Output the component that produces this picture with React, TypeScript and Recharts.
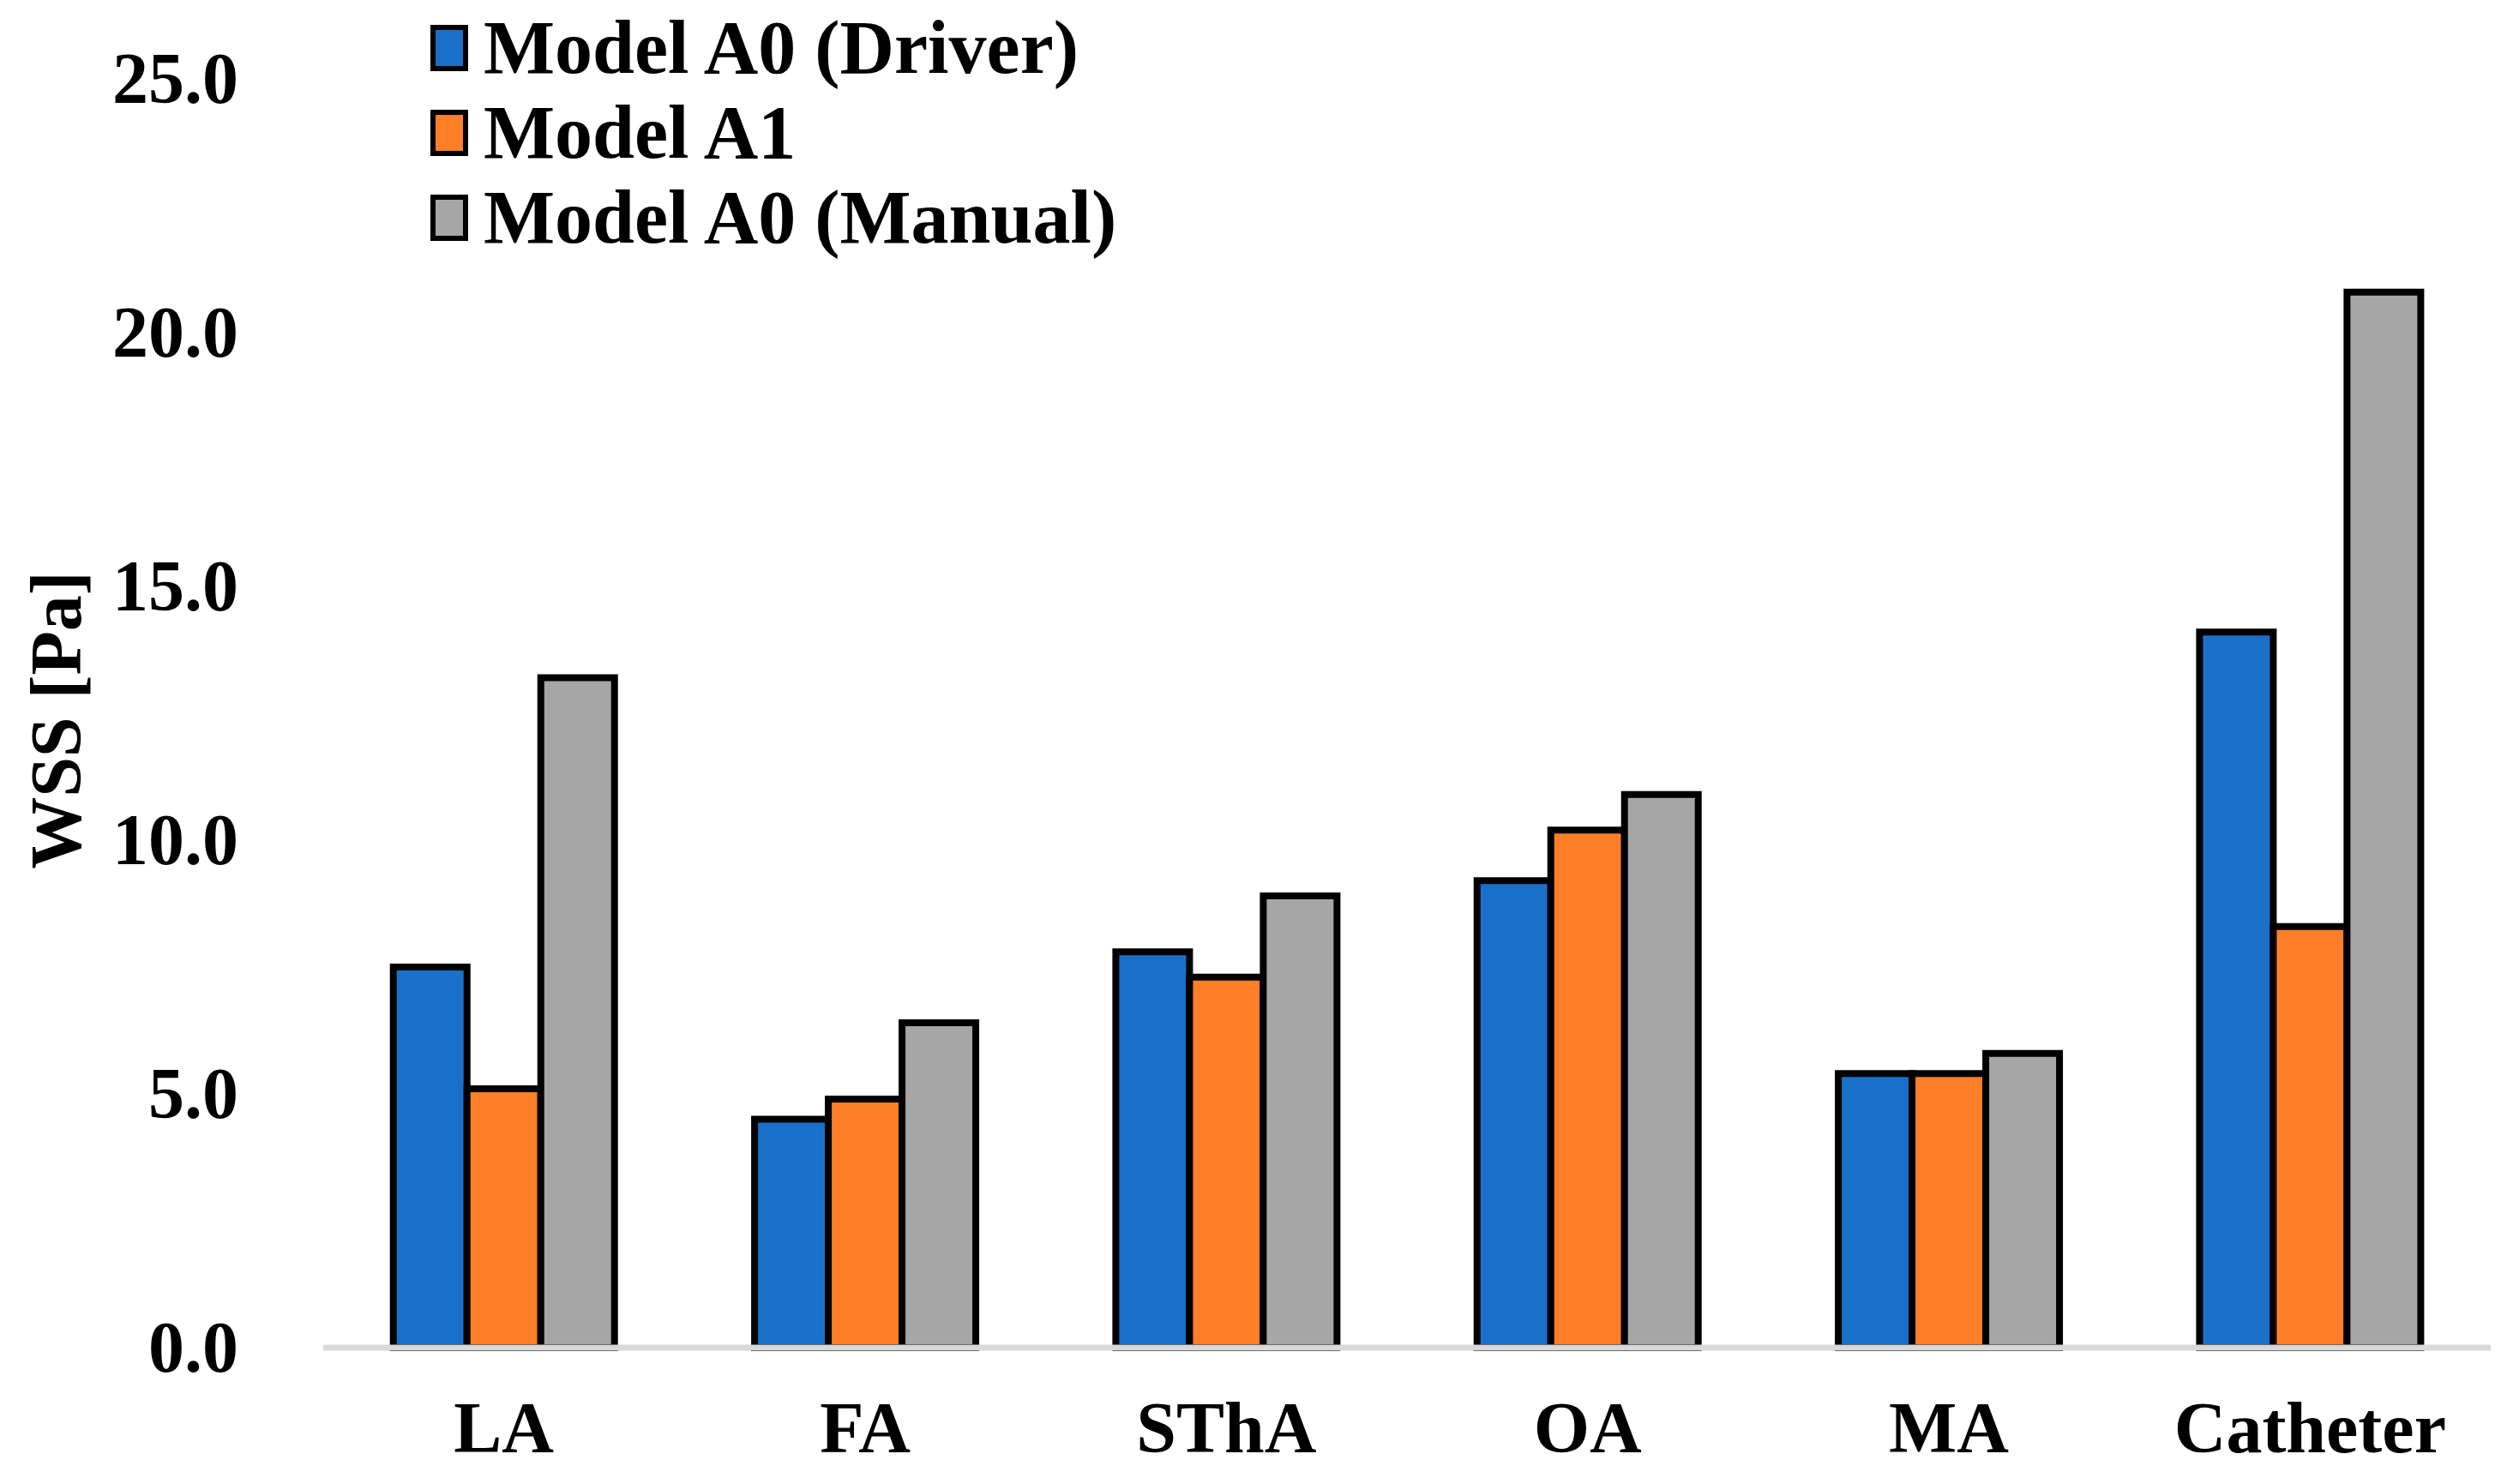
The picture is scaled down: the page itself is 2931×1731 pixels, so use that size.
import React from 'react';
import { BarChart, Bar, XAxis, YAxis, Label } from 'recharts';

const categories = ['LA', 'FA', 'SThA', 'OA', 'MA', 'Catheter'];
const modelA0Driver = [7.5, 4.5, 7.8, 9.2, 5.4, 14.1];
const modelA1 = [5.1, 4.9, 7.3, 10.2, 5.4, 8.3];
const modelA0Manual = [13.2, 6.4, 8.9, 10.9, 5.8, 20.8];
const yTicks = [0, 5, 10, 15, 20, 25];

const seriesNames = ['Model A0 (Driver)', 'Model A1', 'Model A0 (Manual)'];
const seriesColors = ['#1a70c8', '#fe7f27', '#a6a6a6'];

const data = categories.map((c, i) => ({
  name: c,
  a0d: modelA0Driver[i],
  a1: modelA1[i],
  a0m: modelA0Manual[i],
}));

const FONT = '"Liberation Serif", "Times New Roman", serif';

const XTick = (props: any) => {
  const { x, y, payload } = props;
  return (
    <text x={x} y={y} dy={114} textAnchor="middle" fontFamily={FONT} fontWeight="bold" fontSize={84} fill="#000">
      {payload.value}
    </text>
  );
};

const YTick = (props: any) => {
  const { x, y, payload } = props;
  return (
    <text x={x} y={y} dy={28} textAnchor="end" fontFamily={FONT} fontWeight="bold" fontSize={84} fill="#000">
      {Number(payload.value).toFixed(1)}
    </text>
  );
};

const LegendBox = () => (
  <div
    style={{
      position: 'absolute',
      left: 502,
      top: 6,
      fontFamily: FONT,
      fontWeight: 'bold',
      fontSize: 88,
      lineHeight: '99px',
      color: '#000',
    }}
  >
    {seriesNames.map((n, i) => (
      <div key={n} style={{ display: 'flex', alignItems: 'center', whiteSpace: 'nowrap' }}>
        <span
          style={{
            display: 'inline-block',
            width: 32,
            height: 42,
            background: seriesColors[i],
            border: '6px solid #000',
            marginRight: 18,
          }}
        />
        <span>{n}</span>
      </div>
    ))}
  </div>
);

export default function App() {
  return (
    <div style={{ position: 'absolute', left: 0, top: 0, width: 2931, height: 1731, background: '#fff' }}>
      <BarChart
        width={2931}
        height={1731}
        data={data}
        margin={{ top: 92, right: 26, left: 0, bottom: 0 }}
        barCategoryGap="19.4%"
        barGap={0}
      >
        <XAxis
          dataKey="name"
          height={159}
          tickLine={false}
          axisLine={{ stroke: '#d9d9d9', strokeWidth: 7 }}
          tick={<XTick />}
          interval={0}
        />
        <YAxis
          width={377}
          domain={[0, 25]}
          ticks={yTicks}
          tickLine={false}
          axisLine={false}
          tick={<YTick />}
          tickMargin={93}
        >
          <Label
            value="WSS [Pa]"
            content={(p: any) => {
              const vb = p.viewBox;
              const cy = vb.y + vb.height / 2 + 8;
              return (
                <text x={66} y={cy} transform={`rotate(-90, 66, ${cy})`} dy={28} textAnchor="middle" fontFamily={FONT} fontWeight="bold" fontSize={84} fill="#000">
                  WSS [Pa]
                </text>
              );
            }}
          />
        </YAxis>
        <Bar dataKey="a0d" name={seriesNames[0]} fill={seriesColors[0]} stroke="#000" strokeWidth={8} isAnimationActive={false} />
        <Bar dataKey="a1" name={seriesNames[1]} fill={seriesColors[1]} stroke="#000" strokeWidth={8} isAnimationActive={false} />
        <Bar dataKey="a0m" name={seriesNames[2]} fill={seriesColors[2]} stroke="#000" strokeWidth={8} isAnimationActive={false} />
      </BarChart>
      <LegendBox />
    </div>
  );
}
